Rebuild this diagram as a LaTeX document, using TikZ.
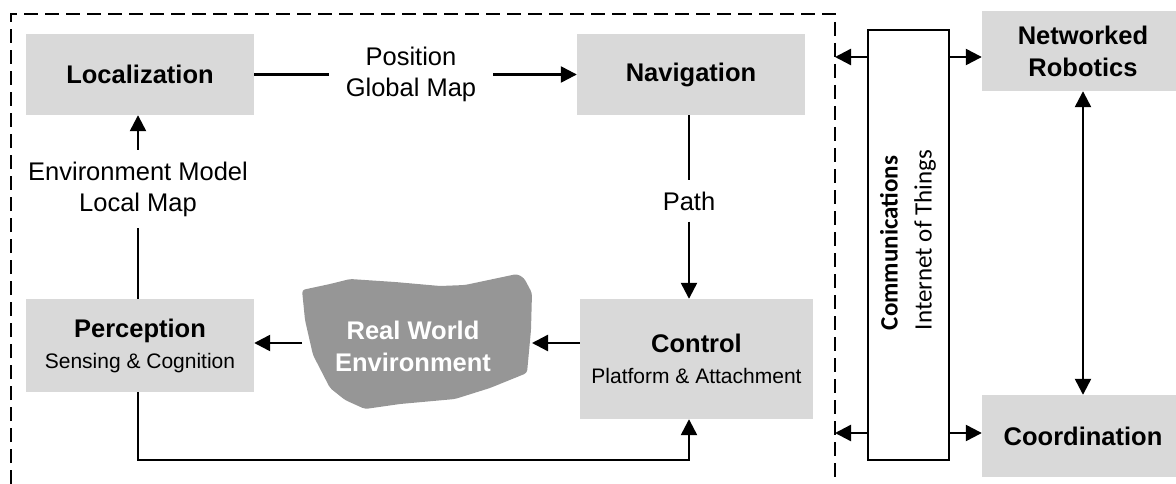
\documentclass[tikz,border=0pt]{standalone}
\usepackage{fontspec}
\setmainfont{Liberation Sans}
\newfontfamily\calibfont{Carlito}
\usetikzlibrary{arrows.meta}
\definecolor{boxgray}{RGB}{217,217,217}
\definecolor{envgray}{RGB}{150,150,150}
\tikzset{
  block/.style={fill=boxgray, draw=none, align=center, inner sep=0pt,
    font=\fontsize{25.5}{31}\selectfont},
  conn/.style={line width=2.4pt, draw=black},
  arr/.style={conn, -{Triangle[length=16pt,width=16pt]}},
  dblarr/.style={conn, {Triangle[length=16pt,width=16pt]}-{Triangle[length=16pt,width=16pt]}},
  lbl/.style={align=center, inner xsep=17pt, inner ysep=11pt,
    font=\fontsize{25.5}{31}\selectfont},
  frame/.style={line width=1.3pt, dash pattern=on 14pt off 7pt},
}
\newcommand{\subline}[1]{{\fontsize{21}{30}\selectfont #1}}

\begin{document}
\begin{tikzpicture}[x=1pt,y=-1pt]
\useasboundingbox (0,0) rectangle (1176,484);

% robot frame (dashed, open at the bottom)
\draw[frame] (11,484) -- (11,14) -- (835,14) -- (835,484);
\coordinate (frameR) at (835,14);

% blocks inside the robot
\node[block, font=\bfseries\fontsize{25.5}{31}\selectfont, minimum width=228pt, minimum height=81pt] (loc) at (140,74.5) {Localization};
\node[block, font=\bfseries\fontsize{25.5}{31}\selectfont, minimum width=228pt, minimum height=81pt] (nav) at (691,74.5) {Navigation};
\node[block, minimum width=228pt, minimum height=93pt] (per) at (140,345.5) {\textbf{Perception}\\\subline{Sensing \& Cognition}};
\node[block, minimum width=233pt, minimum height=120pt] (ctl) at (696.5,359) {\textbf{Control}\\\subline{Platform \& Attachment}};

% real world environment
\fill[envgray, rounded corners=3pt] (302,290) -- (330,284) -- (350,279) -- (395,282)
  -- (440,286) -- (465,285) -- (517,274) -- (524,278) -- (532,293) -- (531,330)
  -- (527,373) -- (490,388) -- (455,399) -- (400,404) -- (365,409) -- (345,400)
  -- (330,388) -- (313,355) -- (305,320) -- cycle;
\node[text=white, align=center, font=\bfseries\fontsize{25.5}{32}\selectfont] (env) at (413,346) {Real World\\Environment};
\coordinate (envR) at (532,343);
\coordinate (envL) at (302,343);

% connector labels
\node[lbl] (pgm) at (411,74.5) {Position\\Global Map};
\node[lbl] (pathlbl) at (689,201) {Path};
\node[lbl, inner ysep=11.5pt] (envlbl) at (138,189) {Environment Model\\Local Map};
\coordinate (loopY) at (0,460);

% internal loop
\draw[conn] (loc) -- (pgm);
\draw[arr] (pgm) -- (nav);
\draw[conn] (nav.south -| pathlbl) -- (pathlbl);
\draw[arr] (pathlbl) -- (pathlbl |- ctl.north);
\draw[arr] (ctl.west |- envR) -- (envR);
\draw[arr] (envL) -- (envL -| per.east);
\draw[conn] (per.north -| envlbl) -- (envlbl.south);
\draw[arr] (envlbl.north) -- (envlbl.north |- loc.south);
\draw[arr] (per.south -| envlbl) -- (envlbl |- loopY) -| (pathlbl |- ctl.south);

% communications bus and external blocks
\node[draw, line width=2pt, fill=white, minimum width=81pt, minimum height=430pt, inner sep=0pt] (com) at (908.5,245) {};
\node[rotate=90, align=left, font=\calibfont\fontsize{25}{34}\selectfont] (comtxt) at (908,240) {\textbf{Communications}\\Internet of Things};
\node[block, font=\bfseries\fontsize{25.5}{32}\selectfont, minimum width=202pt, minimum height=80pt] (net) at (1083,51) {Networked\\Robotics};
\node[block, font=\bfseries\fontsize{25.5}{31}\selectfont, minimum width=202pt, minimum height=82pt] (coo) at (1083,436) {Coordination};

\coordinate (upY) at (0,57);
\coordinate (loY) at (0,433);
\draw[arr] (com.west |- upY) -- (frameR |- upY);
\draw[arr] (com.east |- upY) -- (net.west |- upY);
\draw[arr] (com.west |- loY) -- (frameR |- loY);
\draw[arr] (com.east |- loY) -- (coo.west |- loY);
\draw[dblarr] (net) -- (coo);
\end{tikzpicture}
\end{document}
